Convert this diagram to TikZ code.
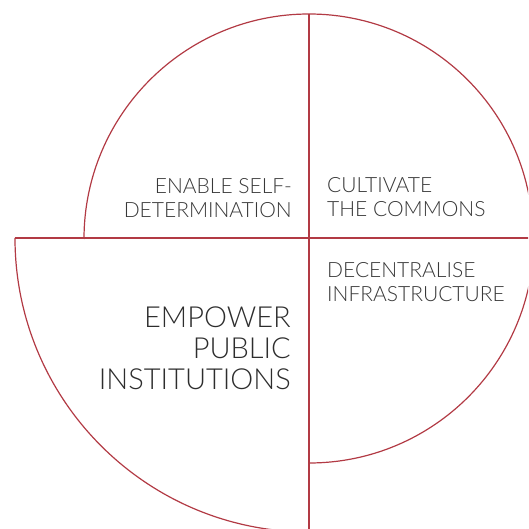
\documentclass[tikz,border=0pt]{standalone}
\usepackage{fontspec}
\IfFontExistsTF{Lato Light}{\setmainfont{Lato Light}}{\setmainfont{Lato}}
\usetikzlibrary{positioning}
\definecolor{linered}{HTML}{B23A44}
\definecolor{txtgray}{HTML}{383838}

\begin{document}
\begin{tikzpicture}[x=1pt, y=1pt, line/.style = {draw=linered, line width=1.2pt},
		small/.style = {inner sep=0pt, text=txtgray, font=\fontsize{21}{24}\selectfont},
		big/.style = {inner sep=0pt, text=txtgray!80!black, font=\fontsize{29}{31}\selectfont}]
		\path[use as bounding box] (-309,-291) rectangle (219,238);
		\clip (-309,-291) rectangle (219,238);
		\coordinate (c) at (0,0);
		% quarter arcs
		\draw[line] (0,224) arc[start angle=90, end angle=180, radius=225];
		\draw[line] (0,224) arc[start angle=90, end angle=0, radius=224];
		\draw[line] (225,0) arc[start angle=0, end angle=-90, radius=225];
		\draw[line] (0,-294) arc[start angle=-90, end angle=-180, radius=294];
		% axes
		\draw[line] (-294,0) -- (230,0);
		\draw[line] (0,224) -- (0,-300);
		% labels
		\node[small, align=right, anchor=north east] (self) at (-17,60) {ENABLE SELF-\\DETERMINATION};
		\node[small, align=left, anchor=north west] (commons) at (18,61) {CULTIVATE\\THE COMMONS};
		\node[small, align=left, anchor=north west] (infra) at (18,-24) {DECENTRALISE\\INFRASTRUCTURE};
		\node[big, align=right, anchor=north east] (public) at (-18,-69) {EMPOWER\\PUBLIC\\INSTITUTIONS};
	\end{tikzpicture}
\end{document}
